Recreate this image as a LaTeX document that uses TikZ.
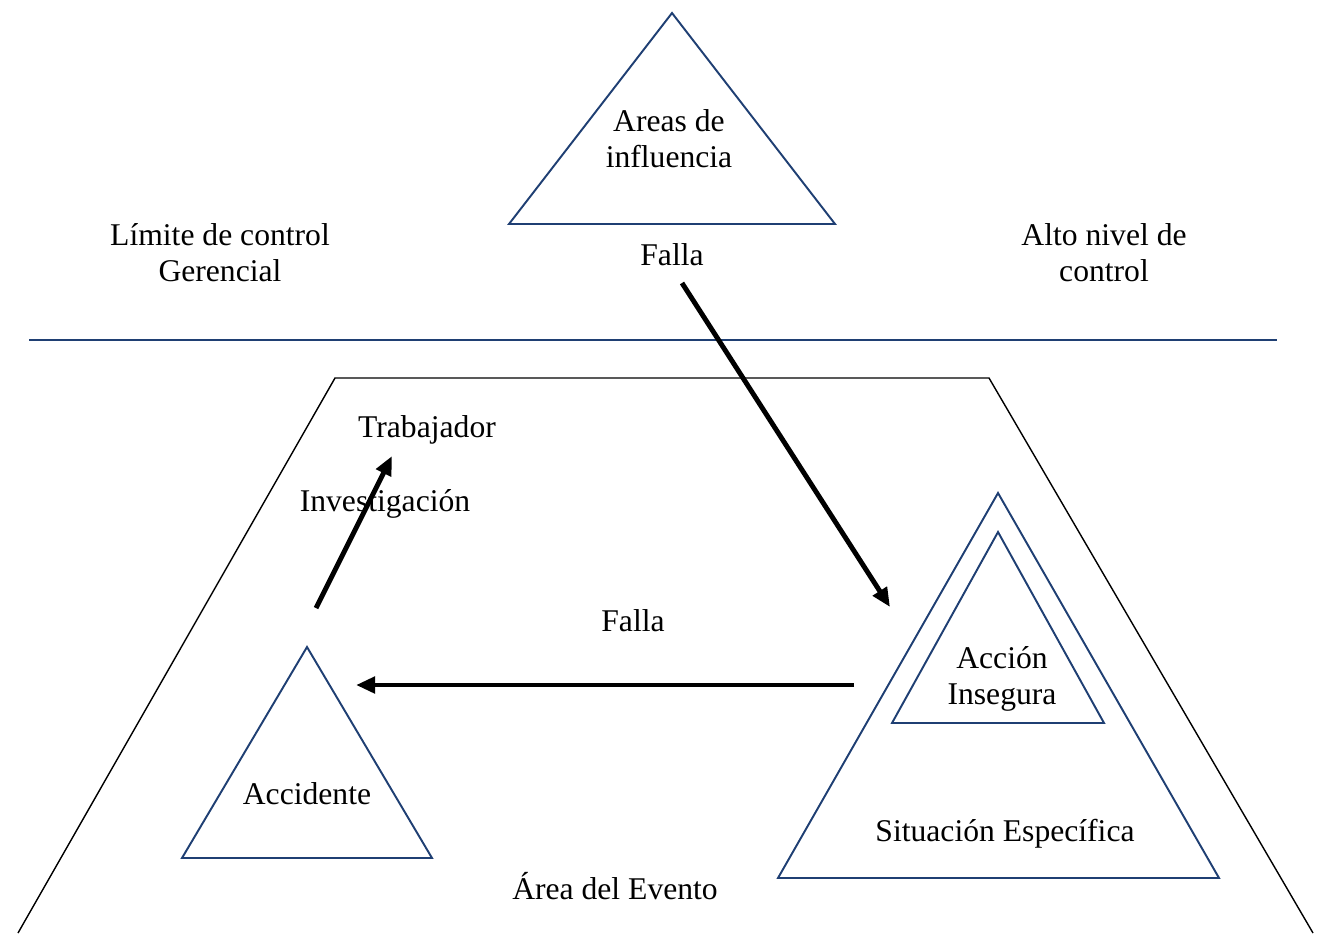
\documentclass[tikz,border=0pt]{standalone}
\usepackage{fontspec}
\setmainfont{Liberation Serif}
\usetikzlibrary{arrows.meta, positioning}
\definecolor{navy}{HTML}{1F3F73}

\begin{document}
\begin{tikzpicture}[x=0.2mm, y=-0.2mm,
    every node/.style={font=\fontsize{18}{20.5}\selectfont, align=center},
    tri/.style={navy, line width=1.1pt},
    flow/.style={line width=2.8pt, -{Triangle[length=3.8mm, width=3.2mm]}}]
    \useasboundingbox (0,0) rectangle (1317,933);

    % Upper zone
    \draw[tri] (672,13) -- (835,224) -- (509,224) -- cycle;
    \node (areas) at (669,139) {Areas de\\influencia};
    \node (fallaTop) at (672,255) {Falla};
    \node (limite) at (220,253) {Límite de control\\Gerencial};
    \node (alto) at (1104,253) {Alto nivel de\\control};

    % Boundary
    \draw[navy, line width=1.1pt] (29,340) -- (1277,340);

    % Event area
    \draw[line width=0.8pt] (18,933) -- (335,378) -- (989,378) -- (1313,933);
    \node (evento) at (615,886) {Área del Evento};

    % Accident
    \draw[tri] (307,647) -- (432,858) -- (182,858) -- cycle;
    \node (accidente) at (307,794) {Accidente};

    % Specific situation
    \draw[tri] (998,493) -- (1219,878) -- (778,878) -- cycle;
    \draw[tri] (998,532) -- (1104,723) -- (892,723) -- cycle;
    \node (accion) at (1002,679) {Acción\\Insegura};
    \node (situacion) at (1005,834) {Situación Específica};

    % Worker
    \node (trabajador) at (427,430) {Trabajador};
    \node (investigacion) at (385,504) {Investigación};
    \node (fallaMid) at (633,621) {Falla};

    % Arrows
    \coordinate (fStart) at (682,283);
    \coordinate (fEnd) at (890,607);
    \coordinate (hStart) at (854,685);
    \coordinate (hEnd) at (356,685);
    \coordinate (iStart) at (316,608);
    \coordinate (iEnd) at (392,456);
    \draw[flow] (fStart) -- (fEnd);
    \draw[flow] (hStart) -- (hEnd);
    \draw[flow] (iStart) -- (iEnd);
\end{tikzpicture}
\end{document}
